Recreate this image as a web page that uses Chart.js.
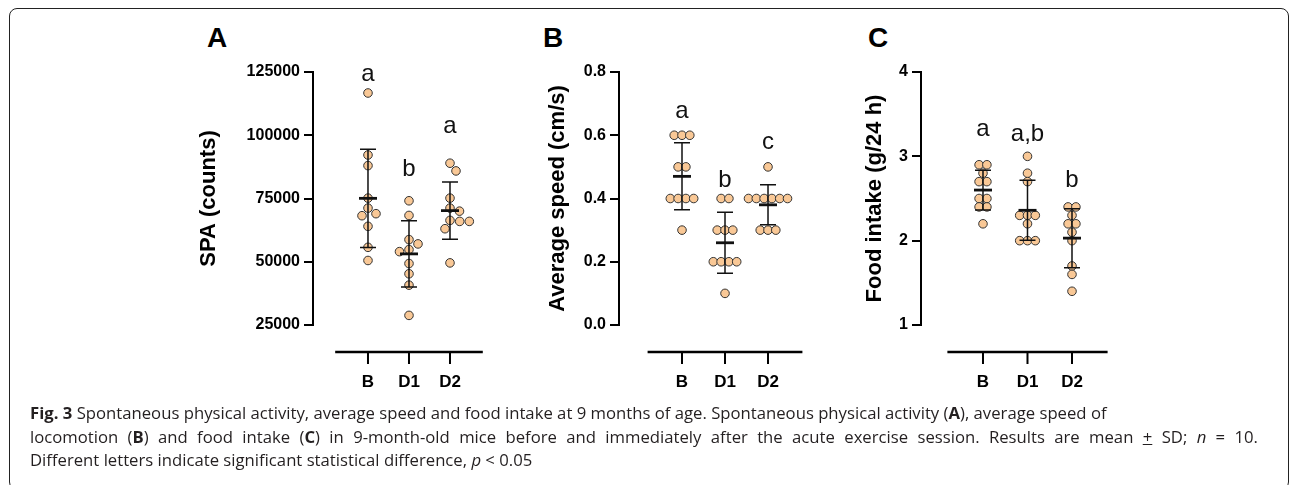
<!DOCTYPE html>
<html>
<head>
<meta charset="utf-8">
<script src="https://cdn.jsdelivr.net/npm/chart.js@4.4.1/dist/chart.umd.min.js"></script>
<style>
  body { margin: 0; background: #fff; width: 1290px; height: 485px; overflow: hidden; position: relative; }
  #frame { position: absolute; left: 9px; top: 8px; width: 1280px; height: 482px; border: 1.5px solid #222;
           border-radius: 8px; box-sizing: border-box; }
  canvas { position: absolute; top: 0; }
  .tag { position: absolute; top: 24px; font: bold 28px/1 "Liberation Sans", Arial, sans-serif; color: #000; }
  #caption { position: absolute; left: 30px; top: 401px; width: 1228px; white-space: nowrap; color: #231f20;
             font-family: "Open Sans", sans-serif; font-size: 16.7px; line-height: 23.5px; }
  #caption .full { text-align: justify; text-align-last: justify; }
</style>
</head>
<body>
<div id="frame"></div>
<div class="tag" style="left:207px">A</div>
<div class="tag" style="left:543px">B</div>
<div class="tag" style="left:868px">C</div>
<canvas id="chartA" width="360" height="405" style="left:150px"></canvas>
<canvas id="chartB" width="340" height="405" style="left:490px"></canvas>
<canvas id="chartC" width="340" height="405" style="left:810px"></canvas>
<div id="caption">
  <div><b>Fig. 3</b> Spontaneous physical activity, average speed and food intake at 9 months of age. Spontaneous physical activity (<b>A</b>), average speed of</div>
  <div class="full">locomotion (<b>B</b>) and food intake (<b>C</b>) in 9-month-old mice before and immediately after the acute exercise session. Results are mean <u>+</u> SD; <i>n</i> = 10.</div>
  <div>Different letters indicate significant statistical difference, <i>p</i> &lt; 0.05</div>
</div>

<script>
const groups = ['B', 'D1', 'D2'];

// A: spontaneous physical activity (counts)
const spaB = [116700, 92200, 88000, 75150, 71200, 69000, 68200, 64000, 55700, 50500];
const spaD1 = [74100, 68300, 58750, 57050, 54800, 54000, 49300, 45250, 40750, 28800];
const spaD2 = [88950, 85900, 75150, 71200, 70000, 66350, 65950, 65950, 63050, 49550];
const spaTicks = [25000, 50000, 75000, 100000, 125000];
const spaLetters = ['a', 'b', 'a'];
const spaLetterAt = [121340, 83940, 101000];

// B: average speed (cm/s)
const speedB = [0.6, 0.6, 0.6, 0.5, 0.5, 0.4, 0.4, 0.4, 0.4, 0.3];
const speedD1 = [0.4, 0.4, 0.3, 0.3, 0.3, 0.2, 0.2, 0.2, 0.2, 0.1];
const speedD2 = [0.5, 0.4, 0.4, 0.4, 0.4, 0.4, 0.4, 0.3, 0.3, 0.3];
const speedTicks = [0, 0.2, 0.4, 0.6, 0.8];
const speedLetters = ['a', 'b', 'c'];
const speedLetterAt = [0.656, 0.436, 0.556];

// C: food intake (g/24 h)
const foodB = [2.9, 2.9, 2.8, 2.7, 2.7, 2.5, 2.5, 2.4, 2.4, 2.2];
const foodD1 = [3.0, 2.8, 2.7, 2.3, 2.3, 2.3, 2.2, 2.0, 2.0, 2.0];
const foodD2 = [2.4, 2.4, 2.3, 2.2, 2.2, 2.1, 2.0, 1.7, 1.6, 1.4];
const foodTicks = [1, 2, 3, 4];
const foodLetters = ['a', 'a,b', 'b'];
const foodLetterAt = [3.246, 3.187, 2.631];

Chart.defaults.color = '#000';
Chart.defaults.font.family = '"Liberation Sans", Arial, sans-serif';

const mean = a => a.reduce((s, v) => s + v, 0) / a.length;
const sd = a => { const m = mean(a); return Math.sqrt(a.reduce((s, v) => s + (v - m) ** 2, 0) / (a.length - 1)); };

// spread points sideways (beeswarm) once the scales exist
function swarm(chart, series, gap) {
  const x = chart.scales.x, y = chart.scales.y;
  const unit = x.getPixelForValue(2) - x.getPixelForValue(1);
  series.forEach((vals, gi) => {
    const placed = [], out = [], rows = new Map();
    [...vals].sort((a, b) => b - a).forEach(v => rows.set(v, (rows.get(v) || 0) + 1));
    rows.forEach((n, v) => {
      const py = y.getPixelForValue(v);
      const fits = offs => offs.every(o => placed.every(p => Math.hypot(p.x - o, p.y - py) >= gap - 0.01));
      let offs = null;
      for (let s = 0; s <= 80 && !offs; s += 0.5) {
        for (const sign of [1, -1]) {
          const cand = Array.from({length: n}, (_, i) => sign * s + (i - (n - 1) / 2) * gap);
          if (fits(cand)) { offs = cand; break; }
        }
      }
      offs.forEach(o => { placed.push({x: o, y: py}); out.push({x: gi + 1 + o / unit, y: v}); });
    });
    chart.data.datasets[gi].data = out;
  });
  chart.update('none');
}

function makePanel(id, o) {
  const marks = {
    id: 'marks',
    afterDatasetsDraw(chart) {
      const {ctx, chartArea, scales: {x, y}} = chart;
      ctx.save();
      ctx.strokeStyle = '#111';
      ctx.fillStyle = '#111';
      o.series.forEach((vals, i) => {
        const m = mean(vals), s = sd(vals);
        const cx = x.getPixelForValue(i + 1);
        const top = y.getPixelForValue(m + s), bot = y.getPixelForValue(m - s), my = y.getPixelForValue(m);
        ctx.lineWidth = 1.5;
        ctx.beginPath();
        ctx.moveTo(cx, top); ctx.lineTo(cx, bot);
        ctx.moveTo(cx - 8, top); ctx.lineTo(cx + 8, top);
        ctx.moveTo(cx - 8, bot); ctx.lineTo(cx + 8, bot);
        ctx.stroke();
        ctx.lineWidth = 2.8;
        ctx.beginPath();
        ctx.moveTo(cx - 9, my); ctx.lineTo(cx + 9, my);
        ctx.stroke();
        ctx.font = '24px "Liberation Sans", Arial, sans-serif';
        ctx.textAlign = 'center';
        ctx.textBaseline = 'alphabetic';
        ctx.fillText(o.letters[i], cx, y.getPixelForValue(o.letterAt[i]));
      });
      // detached x axis below the plot
      const base = chartArea.bottom + 27;
      ctx.strokeStyle = '#000';
      ctx.lineWidth = 2.5;
      ctx.beginPath();
      ctx.moveTo(x.getPixelForValue(0.2), base);
      ctx.lineTo(x.getPixelForValue(3.8), base);
      ctx.stroke();
      ctx.lineWidth = 2;
      ctx.beginPath();
      groups.forEach((g, i) => {
        const cx = x.getPixelForValue(i + 1);
        ctx.moveTo(cx, base); ctx.lineTo(cx, base + 12);
      });
      ctx.stroke();
      ctx.restore();
    }
  };

  const chart = new Chart(document.getElementById(id).getContext('2d'), {
    type: 'scatter',
    data: {
      datasets: o.series.map((vals, i) => ({
        label: groups[i],
        data: vals.map(v => ({x: i + 1, y: v})),
        pointRadius: 4.3,
        borderWidth: 1,
        borderColor: '#333',
        backgroundColor: '#f9c896',
        clip: false
      }))
    },
    options: {
      responsive: false,
      animation: false,
      layout: {padding: {top: 72, right: 10, left: 0, bottom: 0}},
      plugins: {legend: {display: false}, tooltip: {enabled: false}},
      scales: {
        x: {
          type: 'linear',
          min: o.xmin, max: o.xmax,
          afterBuildTicks: s => { s.ticks = groups.map((g, i) => ({value: i + 1})); },
          afterFit: s => { s.height = 80; },
          grid: {display: false, drawTicks: false},
          border: {display: false},
          ticks: {
            padding: 47,
            font: {size: 17, weight: 'bold'},
            callback: v => groups[v - 1]
          }
        },
        y: {
          min: o.ticks[0], max: o.ticks[o.ticks.length - 1],
          afterBuildTicks: s => { s.ticks = o.ticks.map(v => ({value: v})); },
          afterFit: s => { s.width = o.yWidth; },
          grid: {drawOnChartArea: false, tickLength: 9, lineWidth: 2, color: '#000'},
          border: {display: true, width: 2, color: '#000'},
          ticks: {padding: 4, font: {size: 16, weight: 'bold'}, callback: o.fmt},
          title: {
            display: true, text: o.title,
            font: {size: 22, weight: 'bold'},
            padding: {top: o.titlePad, bottom: 0}
          }
        }
      }
    },
    plugins: [marks]
  });
  swarm(chart, o.series, o.gap);
  return chart;
}

makePanel('chartA', {
  series: [spaB, spaD1, spaD2], ticks: spaTicks, fmt: v => String(v),
  title: 'SPA (counts)', letters: spaLetters, letterAt: spaLetterAt,
  xmin: -0.341, xmax: 3.909, yWidth: 163, titlePad: 46, gap: 9.6
});
makePanel('chartB', {
  series: [speedB, speedD1, speedD2], ticks: speedTicks, fmt: v => v.toFixed(1),
  title: 'Average speed (cm/s)', letters: speedLetters, letterAt: speedLetterAt,
  xmin: -0.465, xmax: 4.209, yWidth: 129, titlePad: 55, gap: 7.8
});
makePanel('chartC', {
  series: [foodB, foodD1, foodD2], ticks: foodTicks, fmt: v => String(v),
  title: 'Food intake (g/24 h)', letters: foodLetters, letterAt: foodLetterAt,
  xmin: -0.393, xmax: 4.528, yWidth: 111, titlePad: 52, gap: 7.8
});
</script>
</body>
</html>
